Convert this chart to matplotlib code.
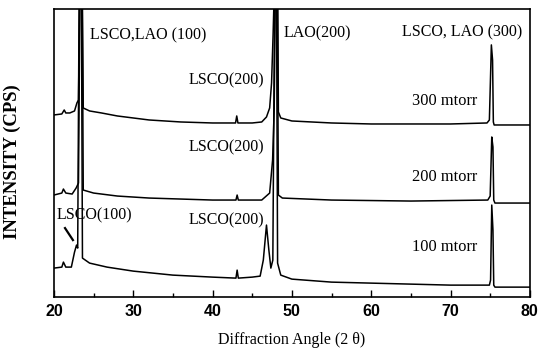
import matplotlib
matplotlib.use("Agg")
import matplotlib.pyplot as plt
from matplotlib.ticker import MultipleLocator

# 2-theta positions and intensities (arbitrary units)
x_300 = [20.0, 21.0, 21.3, 21.5, 22.0, 22.6, 22.9, 23.1, 23.3, 23.55, 23.7, 24.5, 26.0, 28.0,
         32.0, 36.0, 40.0, 42.9, 43.05, 43.2, 45.0, 46.2, 46.8, 47.2, 47.44, 47.64, 47.86,
         48.2, 48.3, 48.6, 50.0, 55.0, 60.0, 70.0, 74.6, 74.9, 75.15, 75.3, 75.4, 75.5, 80.0]
y_300 = [182, 183, 187, 184, 184, 186, 194, 197, 330, 330, 189, 186, 184, 181,
         177, 175, 174, 174, 181, 174, 174, 175, 180, 189, 214, 264, 330,
         330, 185, 179, 176, 174, 173, 173, 174, 177, 252, 237, 175, 172, 172]

x_200 = [20.0, 21.0, 21.2, 21.5, 22.3, 22.8, 23.1, 23.3, 23.55, 23.7, 25.0, 28.0, 32.0,
         40.0, 42.95, 43.1, 43.25, 46.2, 47.2, 47.57, 47.77, 47.95, 48.15, 48.3, 48.8,
         55.0, 65.0, 74.7, 75.0, 75.2, 75.35, 75.45, 75.6, 80.0]
y_200 = [102, 104, 108, 104, 103, 109, 114, 330, 330, 107, 104, 101, 99,
         97, 97, 102, 97, 97, 104, 137, 187, 330, 330, 102, 99,
         97, 96, 97, 101, 160, 150, 97, 94, 94]

x_100 = [20.0, 21.0, 21.2, 21.5, 22.2, 22.6, 22.85, 23.0, 23.2, 23.45, 23.6, 24.5, 26.7,
         30.0, 35.0, 40.0, 42.95, 43.1, 43.25, 45.0, 46.0, 46.4, 46.8, 47.1, 47.35,
         47.6, 47.85, 48.05, 48.2, 48.6, 50.0, 55.0, 60.0, 70.0, 74.9, 75.05, 75.2, 75.35,
         75.45, 75.6, 80.0]
y_100 = [29, 30, 35, 30, 30, 45, 52, 49, 330, 330, 39, 34, 30,
         26, 22, 20, 19, 27, 19, 20, 21, 37, 72, 47, 29,
         37, 330, 330, 34, 22, 18, 15, 14, 12, 12, 17, 92, 67,
         12, 10, 10]

pressure_labels = ["300 mtorr", "200 mtorr", "100 mtorr"]
serif = "Liberation Serif"

fig = plt.figure(figsize=(5.39, 3.55), dpi=100)
ax = fig.add_axes([0.100, 0.163, 0.883, 0.812])

for xs, ys in [(x_300, y_300), (x_200, y_200), (x_100, y_100)]:
    ax.plot(xs, ys, color="black", lw=1.1)

ax.set_xlim(20, 80)
ax.set_ylim(0, 288)
ax.set_yticks([])
ax.xaxis.set_major_locator(MultipleLocator(10))
ax.xaxis.set_minor_locator(MultipleLocator(5))
ax.tick_params(axis="x", which="major", direction="in", length=5, width=1, pad=5)
ax.tick_params(axis="x", which="minor", direction="in", length=3, width=1)
for lab in ax.get_xticklabels():
    lab.set_fontfamily("Liberation Sans")
    lab.set_fontweight("bold")
    lab.set_fontsize(11.5)
for sp in ax.spines.values():
    sp.set_linewidth(1.2)

ax.set_xlabel("Diffraction Angle (2 θ)", family=serif, fontsize=11.5, labelpad=9)
ax.set_ylabel("INTENSITY (CPS)", family=serif, fontsize=13.5, fontweight="bold")
ax.yaxis.set_label_coords(-0.069, 0.47)

tk = dict(family=serif, fontsize=11.5, va="center", ha="left")
ax.text(24.5, 262, "LSCO,LAO (100)", **tk)
ax.text(48.9, 264, "LAO(200)", **tk)
ax.text(63.9, 265, "LSCO, LAO (300)", **tk)
ax.text(37.0, 217, "LSCO(200)", **tk)
ax.text(37.0, 150, "LSCO(200)", **tk)
ax.text(37.0, 77, "LSCO(200)", **tk)
ax.text(20.3, 82, "LSCO(100)", **tk)
ax.plot([21.4, 22.4], [69, 57], color="black", lw=1.6)
for lbl, yy in zip(pressure_labels, [196, 120, 50]):
    ax.text(65.2, yy, lbl, family=serif, fontsize=11.8, va="center", ha="left")

fig.savefig("out.png", dpi=100)
